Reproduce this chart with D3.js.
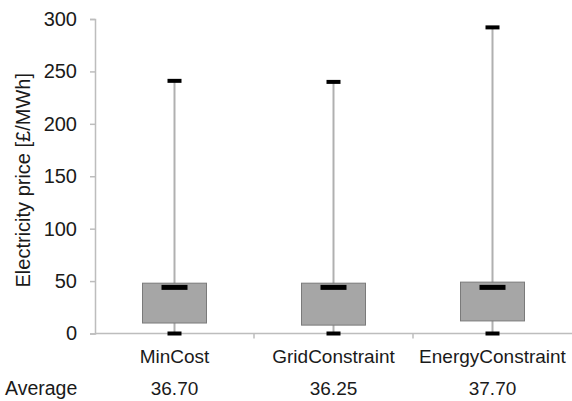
<!DOCTYPE html>
<html><head><meta charset="utf-8">
<script src="https://cdn.jsdelivr.net/npm/d3@7"></script>
<style>body{margin:0;background:#fff}svg{display:block}</style>
</head><body>
<script>
const categories = ["MinCost", "GridConstraint", "EnergyConstraint"];
const maxVals = [241, 240, 292];
const q3Vals = [48, 48, 49];
const medianVals = [44, 44, 44];
const q1Vals = [10, 8, 12];
const minVals = [0, 0, 0];
const averages = ["36.70", "36.25", "37.70"];
const yTicks = [0, 50, 100, 150, 200, 250, 300];

const W = 572, H = 401;
const m = {left: 95, right: 0, top: 19, bottom: 67.5};
const svg = d3.select("body").append("svg").attr("width", W).attr("height", H);
const font = "Liberation Sans, Arial, sans-serif";

const x = d3.scaleBand().domain(categories).range([m.left, W - m.right]);
const y = d3.scaleLinear().domain([0, 300]).range([H - m.bottom, m.top]);

// y axis
const yAx = svg.append("g").attr("transform", `translate(${m.left},0)`)
  .call(d3.axisLeft(y).tickValues(yTicks).tickSize(5).tickPadding(13));
yAx.select(".domain").attr("stroke", "#bdbdbd").attr("stroke-width", 1.5);
yAx.selectAll(".tick line").attr("stroke", "#bdbdbd").attr("stroke-width", 1.5);
yAx.selectAll("text").attr("font-family", font).attr("font-size", 20).attr("fill", "#1a1a1a");

// x axis
const x0 = y(0);
svg.append("line").attr("x1", m.left).attr("x2", W).attr("y1", x0).attr("y2", x0)
  .attr("stroke", "#bdbdbd").attr("stroke-width", 1.5);
categories.slice(1).forEach(c => {
  svg.append("line").attr("x1", x(c)).attr("x2", x(c)).attr("y1", x0).attr("y2", x0 + 5)
    .attr("stroke", "#bdbdbd").attr("stroke-width", 1.5);
});

const bw = 64;
categories.forEach((c, i) => {
  const cx = x(c) + x.bandwidth() / 2;
  svg.append("line").attr("x1", cx).attr("x2", cx).attr("y1", y(maxVals[i])).attr("y2", y(minVals[i]))
    .attr("stroke", "#b0b0b0").attr("stroke-width", 2);
  svg.append("rect").attr("x", cx - bw / 2).attr("width", bw)
    .attr("y", y(q3Vals[i])).attr("height", y(q1Vals[i]) - y(q3Vals[i]))
    .attr("fill", "#a6a6a6").attr("stroke", "#7a7a7a").attr("stroke-width", 1);
  svg.append("rect").attr("x", cx - 13).attr("width", 26)
    .attr("y", y(medianVals[i]) - 2.5).attr("height", 5).attr("fill", "#000");
  svg.append("rect").attr("x", cx - 7).attr("width", 14)
    .attr("y", y(maxVals[i]) - 2).attr("height", 4).attr("fill", "#000");
  svg.append("rect").attr("x", cx - 7).attr("width", 14)
    .attr("y", y(minVals[i]) - 2).attr("height", 4).attr("fill", "#000");
  svg.append("text").attr("x", cx).attr("y", 363).attr("text-anchor", "middle")
    .attr("font-family", font).attr("font-size", 19).attr("fill", "#1a1a1a").text(c);
  svg.append("text").attr("x", cx).attr("y", 395).attr("text-anchor", "middle")
    .attr("font-family", font).attr("font-size", 19).attr("fill", "#1a1a1a").text(averages[i]);
});

svg.append("text").attr("x", 5).attr("y", 395)
  .attr("font-family", font).attr("font-size", 19.5).attr("fill", "#1a1a1a").text("Average");

svg.append("text").attr("transform", `translate(30,${(m.top + x0) / 2 + 4}) rotate(-90)`)
  .attr("text-anchor", "middle").attr("font-family", font).attr("font-size", 20).attr("fill", "#1a1a1a")
  .text("Electricity price [£/MWh]");
</script>
</body></html>
